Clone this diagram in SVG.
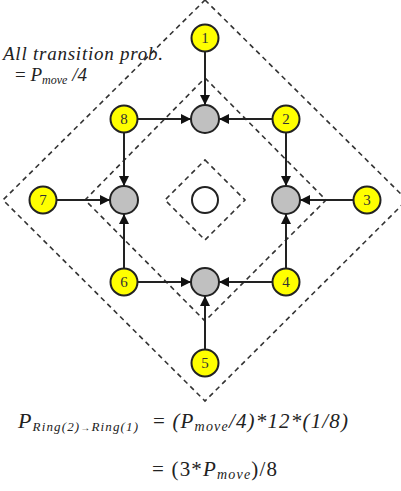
<svg xmlns="http://www.w3.org/2000/svg" width="401" height="491" viewBox="0 0 401 491">
  <style>
    .ring { fill: none; stroke: #333; stroke-width: 1.6; stroke-dasharray: 5 4; }
    .edge { stroke: #222; stroke-width: 2; fill: none; marker-end: url(#arrow); }
    .cell { fill: #ffff00; stroke: #222; stroke-width: 2; }
    .hub { fill: #c0c0c0; stroke: #222; stroke-width: 2; }
    .home { fill: #ffffff; stroke: #222; stroke-width: 2; }
    .num { font-size: 15px; fill: #333; text-anchor: middle; }
    .eq { fill: #222; }
    .it { font-style: italic; }
  </style>
  <defs>
    <marker id="arrow" viewBox="0 0 10 10" refX="10" refY="5" markerWidth="10" markerHeight="10" markerUnits="userSpaceOnUse" orient="auto">
      <path d="M0,0 L10,5 L0,10 Z" fill="#111"/>
    </marker>
  </defs>

  <!-- dashed rings -->
  <g id="rings">
    <polygon class="ring" points="205,0 407,200 205,401 3,200"/>
    <polygon class="ring" points="205,78 326,200 205,321 85,200"/>
    <polygon class="ring" points="205,160 245,200 205,240 165,200"/>
  </g>

  <!-- connectors -->
  <g id="connectors">
    <line class="edge" x1="205" y1="52" x2="205" y2="105"/>
    <line class="edge" x1="138" y1="119" x2="191" y2="119"/>
    <line class="edge" x1="272" y1="119" x2="219" y2="119"/>
    <line class="edge" x1="286" y1="133" x2="286" y2="186"/>
    <line class="edge" x1="353" y1="200" x2="300" y2="200"/>
    <line class="edge" x1="286" y1="268" x2="286" y2="214"/>
    <line class="edge" x1="272" y1="282" x2="219" y2="282"/>
    <line class="edge" x1="205" y1="349" x2="205" y2="296"/>
    <line class="edge" x1="138" y1="282" x2="191" y2="282"/>
    <line class="edge" x1="124" y1="268" x2="124" y2="214"/>
    <line class="edge" x1="57" y1="200" x2="110" y2="200"/>
    <line class="edge" x1="124" y1="133" x2="124" y2="186"/>
  </g>

  <!-- ring 0 -->
  <g id="center"><circle class="home" cx="205" cy="200" r="13"/></g>

  <!-- ring 1 -->
  <g id="hub-top"><circle class="hub" cx="205" cy="119" r="14"/></g>
  <g id="hub-right"><circle class="hub" cx="286" cy="200" r="14"/></g>
  <g id="hub-bottom"><circle class="hub" cx="205" cy="282" r="14"/></g>
  <g id="hub-left"><circle class="hub" cx="124" cy="200" r="14"/></g>

  <!-- ring 2 -->
  <g id="cells" font-family="Liberation Serif, serif">
    <g id="cell-1"><circle class="cell" cx="205" cy="38" r="13.5"/><text class="num" x="205" y="43">1</text></g>
    <g id="cell-2"><circle class="cell" cx="286" cy="119" r="13.5"/><text class="num" x="286" y="124">2</text></g>
    <g id="cell-3"><circle class="cell" cx="367" cy="200" r="13.5"/><text class="num" x="367" y="205">3</text></g>
    <g id="cell-4"><circle class="cell" cx="286" cy="282" r="13.5"/><text class="num" x="286" y="287">4</text></g>
    <g id="cell-5"><circle class="cell" cx="205" cy="363" r="13.5"/><text class="num" x="205" y="368">5</text></g>
    <g id="cell-6"><circle class="cell" cx="124" cy="282" r="13.5"/><text class="num" x="124" y="287">6</text></g>
    <g id="cell-7"><circle class="cell" cx="43" cy="200" r="13.5"/><text class="num" x="43" y="205">7</text></g>
    <g id="cell-8"><circle class="cell" cx="124" cy="119" r="13.5"/><text class="num" x="124" y="124">8</text></g>
  </g>

  <!-- annotation -->
  <g id="note" font-family="Liberation Serif, serif">
    <text class="eq it" x="3" y="60" font-size="19" textLength="160" lengthAdjust="spacing">All transition prob.</text>
    <text class="eq" x="15" y="81" font-size="19">= <tspan class="it">P</tspan><tspan class="it" font-size="12" dy="3">move</tspan><tspan class="it" dy="-3"> /4</tspan></text>
  </g>

  <!-- formula -->
  <g id="formula" font-family="Liberation Serif, serif">
    <text class="eq it" x="18" y="428" font-size="22" textLength="120" lengthAdjust="spacing">P<tspan font-size="13" dy="3">Ring(2)</tspan><tspan font-size="10">→</tspan><tspan font-size="13">Ring(1)</tspan></text>
    <text class="eq" x="153" y="428" font-size="21" textLength="195" lengthAdjust="spacing">= <tspan class="it">(P</tspan><tspan class="it" font-size="14" dy="3">move</tspan><tspan class="it" dy="-3">/4)*12*(1/8)</tspan></text>
    <text class="eq" x="152" y="476" font-size="21" textLength="125" lengthAdjust="spacing">= (3*<tspan class="it">P</tspan><tspan class="it" font-size="14" dy="3">move</tspan><tspan dy="-3">)/8</tspan></text>
  </g>
</svg>
